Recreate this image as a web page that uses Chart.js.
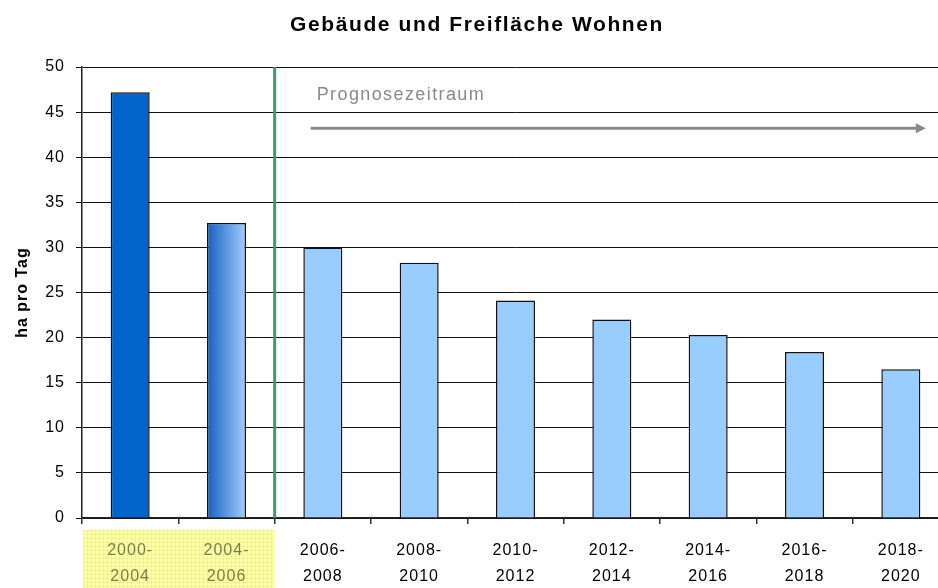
<!DOCTYPE html>
<html lang="de">
    <head>
        <meta charset="utf-8">
        <script src="https://cdn.jsdelivr.net/npm/chart.js"></script>
        <title> Gebäude und Freifläche Wohnen </title>
        <style>
            body {
                margin: 0;
                background: #ffffff;
                overflow: hidden;
            }
            .wrap {
                width: 938px;
                height: 588px;
                overflow: hidden;
            }
        </style>
    </head>
    <body>
        <div class="wrap">
            <canvas id="wohnenChart" width="950" height="588"></canvas>
        </div>

        <script>
            // data
            const periods = [
                ['2000-', '2004'], ['2004-', '2006'], ['2006-', '2008'],
                ['2008-', '2010'], ['2010-', '2012'], ['2012-', '2014'],
                ['2014-', '2016'], ['2016-', '2018'], ['2018-', '2020']
            ];
            const haProTag = [47.2, 32.7, 30.0, 28.3, 24.1, 22.0, 20.3, 18.4, 16.5];
            const pastCount = 2;   // first two periods are observed values
            const yTicks = [0, 5, 10, 15, 20, 25, 30, 35, 40, 45, 50];

            const chartTitle = 'Gebäude und Freifläche Wohnen';
            const axisTitle = 'ha pro Tag';
            const forecastLabel = 'Prognosezeitraum';

            const FONT = "Arial, 'Liberation Sans', sans-serif";
            const BAR_PCT = 0.405;

            function barColor(ctx) {
                const i = ctx.dataIndex;
                if (i === 0) return '#0064cc';
                if (i === 1) {
                    const xs = ctx.chart.scales.x;
                    if (!xs || !xs.width) return '#5a9ae6';
                    const cx = xs.getPixelForValue(1);
                    const w = xs.width / periods.length * BAR_PCT;
                    const g = ctx.chart.ctx.createLinearGradient(cx - w / 2, 0, cx + w / 2, 0);
                    g.addColorStop(0, '#1560c4');
                    g.addColorStop(1, '#a3cdfb');
                    return g;
                }
                return '#99ccff';
            }

            // extra drawing: title, yellow label box, green divider, forecast arrow
            const extras = {
                id: 'extras',
                beforeLayout(chart) {
                    chart.ctx.letterSpacing = '1px';
                },
                beforeDraw(chart) {
                    const c = chart.ctx, xs = chart.scales.x, area = chart.chartArea;
                    c.letterSpacing = '1px';
                    const split = (xs.getPixelForValue(pastCount - 1) + xs.getPixelForValue(pastCount)) / 2;
                    const top = area.bottom + 12;
                    c.save();
                    c.fillStyle = '#ffffa6';
                    c.fillRect(area.left + 1, top, split - area.left - 1, chart.height - top);
                    c.strokeStyle = 'rgba(220,220,120,0.35)';
                    c.lineWidth = 1;
                    for (let x = area.left + 1; x < split; x += 4) {
                        c.beginPath(); c.moveTo(x + 0.5, top); c.lineTo(x + 0.5, chart.height); c.stroke();
                    }
                    for (let y = top; y < chart.height; y += 4) {
                        c.beginPath(); c.moveTo(area.left + 1, y + 0.5); c.lineTo(split, y + 0.5); c.stroke();
                    }
                    c.restore();
                },
                afterDatasetsDraw(chart) {
                    const c = chart.ctx, xs = chart.scales.x, ys = chart.scales.y, area = chart.chartArea;
                    const split = (xs.getPixelForValue(pastCount - 1) + xs.getPixelForValue(pastCount)) / 2;
                    c.save();
                    // divider
                    c.strokeStyle = '#3a9b6c';
                    c.lineWidth = 3;
                    c.beginPath();
                    c.moveTo(split, area.top);
                    c.lineTo(split, area.bottom);
                    c.stroke();

                    // forecast arrow
                    const ay = ys.getPixelForValue(43.2);
                    const ax0 = split + 36;
                    const ax1 = xs.getPixelForValue(periods.length - 1) + 23;
                    c.strokeStyle = '#8a8a8a';
                    c.fillStyle = '#8a8a8a';
                    c.lineWidth = 3;
                    c.beginPath();
                    c.moveTo(ax0, ay);
                    c.lineTo(ax1 - 6, ay);
                    c.stroke();
                    c.beginPath();
                    c.moveTo(ax1 + 2, ay);
                    c.lineTo(ax1 - 8, ay - 5);
                    c.lineTo(ax1 - 8, ay + 5);
                    c.closePath();
                    c.fill();

                    c.letterSpacing = '1.4px';
                    c.font = '18px ' + FONT;
                    c.textAlign = 'left';
                    c.textBaseline = 'middle';
                    c.fillText(forecastLabel, split + 42, ys.getPixelForValue(46.9));

                    // title
                    c.letterSpacing = '1.6px';
                    c.fillStyle = '#000';
                    c.font = 'bold 21px ' + FONT;
                    c.textAlign = 'center';
                    c.fillText(chartTitle, 477, 25);
                    c.restore();
                }
            };

            const ctx = document.getElementById('wohnenChart').getContext('2d');

            const wohnenChart = new Chart(ctx, {
                type: 'bar',
                data: {
                    labels: periods,
                    datasets: [{
                        data: haProTag,
                        backgroundColor: barColor,
                        borderColor: '#111',
                        borderWidth: 1.5,
                        barPercentage: BAR_PCT,
                        categoryPercentage: 1.0
                    }]
                },
                options: {
                    responsive: false,
                    animation: false,
                    layout: {
                        padding: { top: 67, right: 1, left: 0, bottom: 0 }
                    },
                    plugins: {
                        legend: { display: false },
                        title: { display: false },
                        tooltip: { enabled: false }
                    },
                    scales: {
                        x: {
                            afterFit(scale) { scale.height = 70; },
                            grid: {
                                drawOnChartArea: false,
                                drawTicks: true,
                                tickLength: 6,
                                color: '#333',
                                lineWidth: 1.5
                            },
                            border: { color: '#222', width: 1.5 },
                            ticks: {
                                font: { family: FONT, size: 16, lineHeight: 1.6 },
                                color: (c) => c.index < pastCount ? '#7d7d4c' : '#000',
                                padding: 14,
                                maxRotation: 0
                            }
                        },
                        y: {
                            min: 0,
                            max: 50,
                            afterFit(scale) { scale.width = 82; },
                            afterBuildTicks(scale) { scale.ticks = yTicks.map(v => ({ value: v })); },
                            grid: {
                                color: '#111',
                                lineWidth: 1,
                                tickLength: 6
                            },
                            border: { color: '#222', width: 1.5 },
                            ticks: {
                                font: { family: FONT, size: 16 },
                                color: '#000',
                                padding: 11
                            },
                            title: {
                                display: true,
                                text: axisTitle,
                                font: { family: FONT, size: 16, weight: 'bold' },
                                color: '#000',
                                padding: { top: 13, bottom: 0 }
                            }
                        }
                    }
                },
                plugins: [extras]
            });
        </script>
    </body>
</html>
